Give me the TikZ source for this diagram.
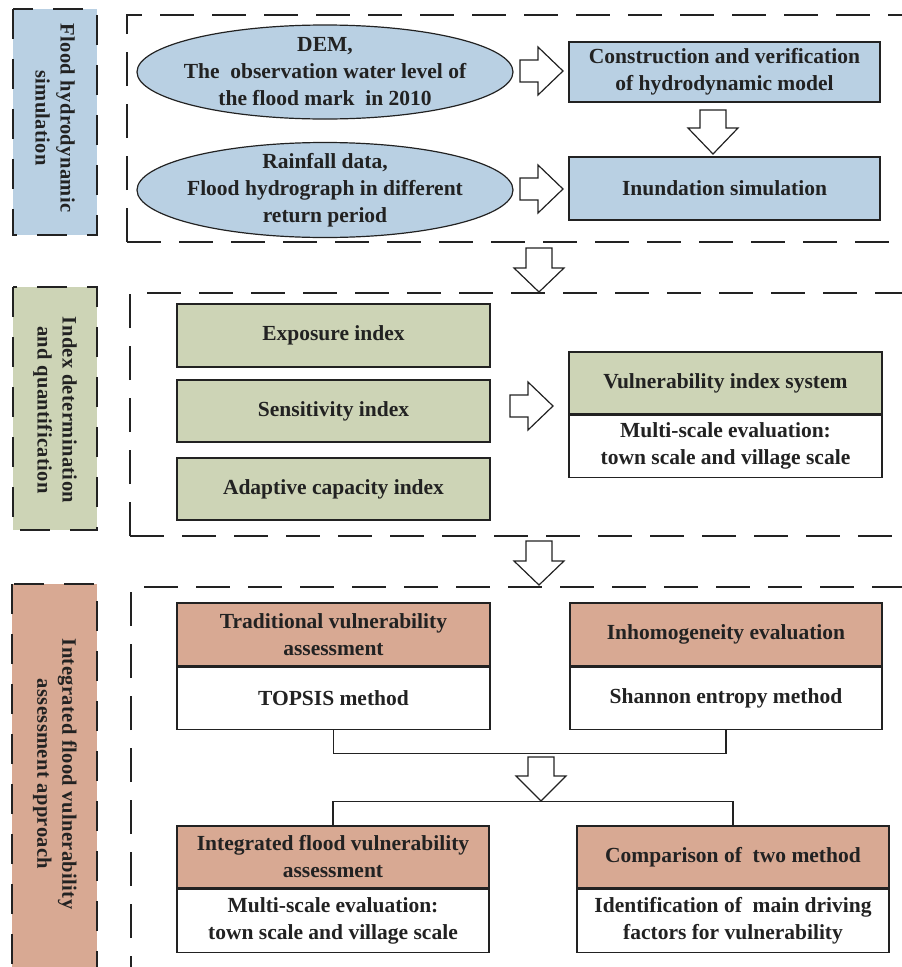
\documentclass[tikz,border=0pt]{standalone}
\usepackage{fontspec}
\setmainfont{Liberation Serif}
\usetikzlibrary{shapes.geometric}
\definecolor{fblue}{HTML}{B9D0E3}
\definecolor{fgreen}{HTML}{CDD4B6}
\definecolor{fpink}{HTML}{D8A993}
\definecolor{lineg}{HTML}{222222}
\newcommand{\rarr}[2]{\draw[barrow] (#1,{#2-11}) -- ({#1+18},{#2-11}) -- ({#1+18},{#2-24}) -- ({#1+43},#2) -- ({#1+18},{#2+24}) -- ({#1+18},{#2+11}) -- (#1,{#2+11}) -- cycle;}
\newcommand{\darr}[4]{\draw[barrow] ({#1-13},#2) -- ({#1+13},#2) -- ({#1+13},{#2+#3}) -- ({#1+25},{#2+#3}) -- (#1,{#2+#3+#4}) -- ({#1-25},{#2+#3}) -- ({#1-13},{#2+#3}) -- cycle;}
\begin{document}
\begin{tikzpicture}[x=1pt,y=-1pt,
  every node/.style={font=\fontsize{21.5}{27}\selectfont\bfseries, text=lineg},
  frame/.style={draw=lineg, line width=2pt, dash pattern=on 34pt off 18pt},
  lab/.style={fill=#1, draw=lineg, line width=2pt, dash pattern=on 30pt off 20pt},
  labtext/.style={rotate=-90, align=center, font=\fontsize{20.5}{25}\selectfont\bfseries\addfontfeatures{LetterSpace=2}},
  boxx/.style={draw=lineg, line width=1.2pt, fill=#1, align=center, inner sep=0pt},
  ellx/.style={ellipse, draw=lineg, line width=1.2pt, fill=fblue, inner sep=0pt, minimum width=376pt, minimum height=94pt},
  barrow/.style={draw=lineg, line width=1.2pt, fill=white, line join=miter},
  conn/.style={draw=lineg, line width=1.2pt}]
\useasboundingbox (0,0) rectangle (902,967);
% left label boxes
\draw[lab=fblue] (13,9) rectangle (97,235);
\node[labtext] (l1) at (55,118) {Flood hydrodynamic\\simulation};
\draw[lab=fgreen] (13,287) rectangle (97,530);
\node[labtext] (l2) at (55,410) {Index determination\\and quantification};
\draw[lab=fpink] (12,584) rectangle (97,990);
\node[labtext] (l3) at (55,774) {Integrated flood vulnerability\\assessment approach};
% dashed frames
\draw[frame] (127,242) -- (127,15) -- (930,15);
\draw[frame] (127,242) -- (930,242);
\draw[frame] (130,536) -- (130,293) -- (930,293);
\draw[frame] (130,536) -- (930,536);
\draw[frame] (131,990) -- (131,587) -- (930,587);
% section 1
\node[ellx] (e1) at (325,72) {};
\node[align=center] (e1t) at (e1.center) {DEM,\\The \ observation water level of\\the flood mark \ in 2010};
\node[ellx, minimum height=95pt] (e2) at (325,190) {};
\node[align=center] (e2t) at (e2.center) {Rainfall data,\\Flood hydrograph in different\\return period};
\node[boxx=fblue, minimum width=311pt, minimum height=60pt] (cons) at (724.5,72) {Construction and verification\\of hydrodynamic model};
\node[boxx=fblue, minimum width=311pt, minimum height=63pt] (inun) at (724.5,188.5) {Inundation simulation};
\rarr{520}{71}
\rarr{520}{189}
\darr{713}{110}{18}{26}
\darr{539}{248}{20}{24}
% section 2
\node[boxx=fgreen, minimum width=313pt, minimum height=63pt] (expo) at (333.5,335.5) {Exposure index};
\node[boxx=fgreen, minimum width=313pt, minimum height=62pt] (sens) at (333.5,411) {Sensitivity index};
\node[boxx=fgreen, minimum width=313pt, minimum height=62pt] (adap) at (333.5,489) {Adaptive capacity index};
\node[boxx=fgreen, minimum width=313pt, minimum height=62pt] (vis) at (725.5,383) {Vulnerability index system};
\node[boxx=white, minimum width=313pt, minimum height=62pt, anchor=north] (vis2) at (vis.south) {Multi-scale evaluation:\\town scale and village scale};
\rarr{510}{406}
\darr{539}{541}{20}{24}
% section 3
\node[boxx=fpink, minimum width=313pt, minimum height=63pt] (trad) at (333.5,634.5) {Traditional vulnerability\\assessment};
\node[boxx=white, minimum width=313pt, minimum height=62pt, anchor=north] (tops) at (trad.south) {TOPSIS method};
\node[boxx=fpink, minimum width=312pt, minimum height=63pt] (inho) at (726,634.5) {Inhomogeneity evaluation};
\node[boxx=white, minimum width=312pt, minimum height=62pt, anchor=north] (shan) at (inho.south) {Shannon entropy method};
\node[boxx=fpink, minimum width=312pt, minimum height=62pt] (integ) at (333,857) {Integrated flood vulnerability\\assessment};
\node[boxx=white, minimum width=312pt, minimum height=63pt, anchor=north] (mult) at (integ.south) {Multi-scale evaluation:\\town scale and village scale};
\node[boxx=fpink, minimum width=312pt, minimum height=62pt] (comp) at (733,857) {Comparison of \ two method};
\node[boxx=white, minimum width=312pt, minimum height=63pt, anchor=north] (iden) at (comp.south) {Identification of \ main driving\\factors for vulnerability};
\draw[conn] (tops.south) -- ++(0,24) -| (shan.south);
\draw[conn] (integ.north) -- ++(0,-24) -| (comp.north);
\darr{541}{757}{19}{25}
\end{tikzpicture}
\end{document}
